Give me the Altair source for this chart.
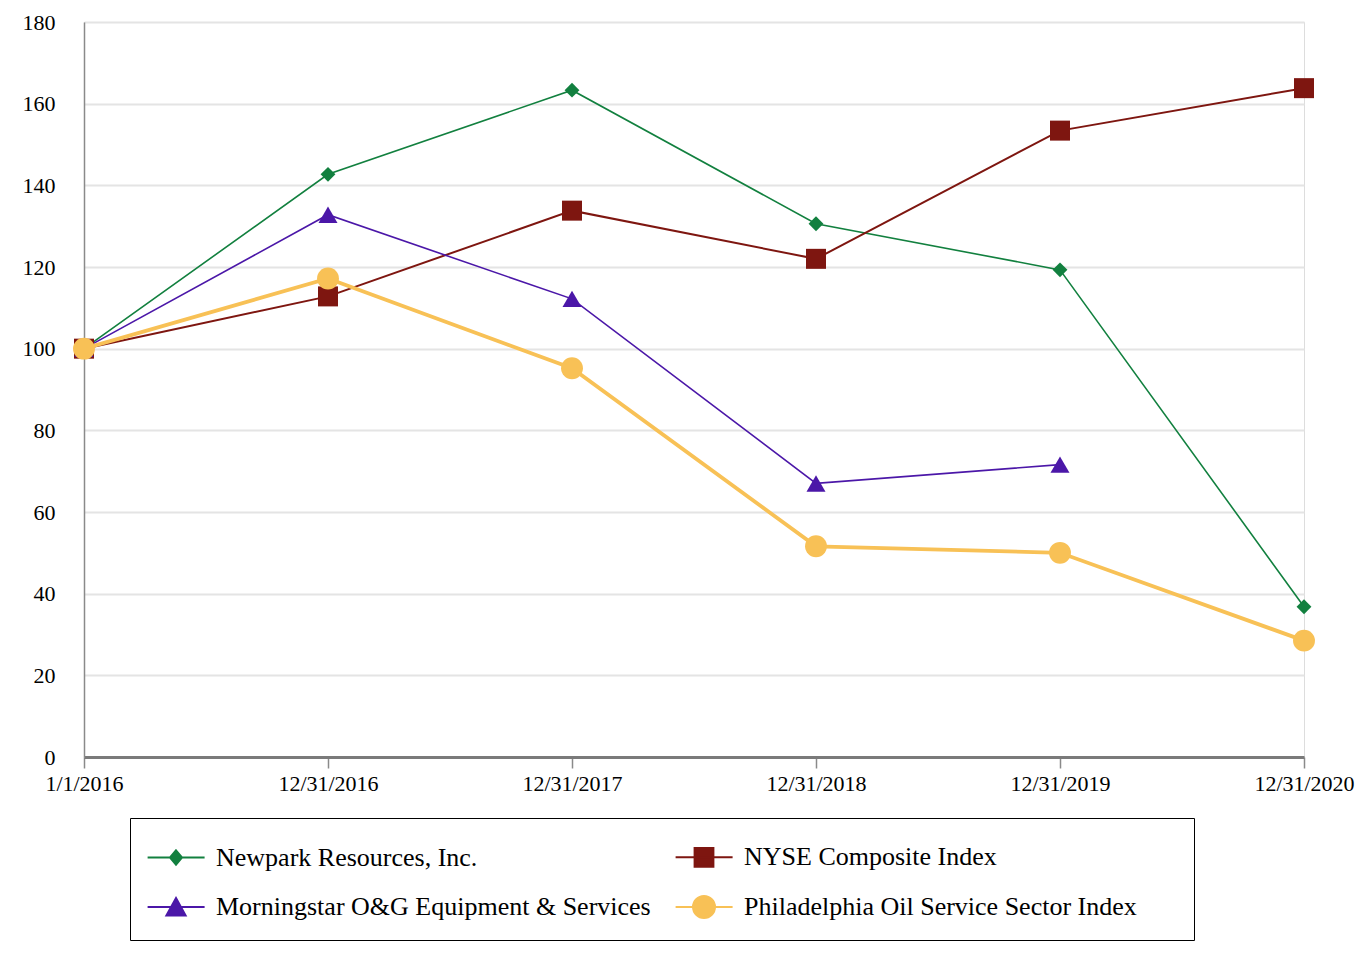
import altair as alt
import pandas as pd

dates = ["1/1/2016", "12/31/2016", "12/31/2017", "12/31/2018", "12/31/2019", "12/31/2020"]
series_names = [
    "Newpark Resources, Inc.",
    "NYSE Composite Index",
    "Morningstar O&G Equipment & Services",
    "Philadelphia Oil Service Sector Index",
]
newpark = [100, 142.7, 163.3, 130.6, 119.3, 36.8]
nyse = [100, 112.8, 133.8, 122.0, 153.4, 163.8]
morningstar = [100, 132.8, 112.2, 67.0, 71.6, None]
philly = [100, 117.2, 95.2, 51.6, 50.0, 28.5]

colors = ["#12803f", "#7e1610", "#4b17a8", "#f8c156"]
shapes = ["diamond", "square", "triangle-up", "circle"]
sizes = [220, 400, 360, 480]
widths = [1.6, 2, 1.6, 3.8]
legend_widths = [2, 2, 2, 4]

# legend symbols: line + marker (custom SVG paths, unit coords scaled by sqrt(size)/2 = 20)
legend_paths = [
    "M-1.07,0H1.78M0.35,-0.36L0.65,0L0.35,0.36L0.05,0Z",
    "M-1.07,0H1.78M-0.12,-0.47H0.82V0.47H-0.12Z",
    "M-1.07,0H1.78M0.35,-0.45L0.83,0.42H-0.13Z",
    "M-1.07,0H1.78M-0.2,0A0.55,0.55,0,1,0,0.9,0A0.55,0.55,0,1,0,-0.2,0Z",
]

rows = []
for name, vals in zip(series_names, [newpark, nyse, morningstar, philly]):
    for d, v in zip(dates, vals):
        if v is not None:
            rows.append({"date": d, "series": name, "value": v})
df = pd.DataFrame(rows)

FONT = "Liberation Serif"
PAD = "\u00a0\u00a0\u00a0\u2800"  # invisible trailing padding: widen the legend box on the right

legend = alt.Legend(
    title=None,
    orient="none",
    legendX=46,
    legendY=796,
    direction="horizontal",
    columns=2,
    gridAlign="each",
    columnPadding=20,
    rowPadding=15,
    padding=18,
    symbolSize=1600,
    labelOffset=26,
    labelFont=FONT,
    labelFontSize=26,
    labelColor="black",
    labelLimit=1000,
    labelExpr=f"datum.label == '{series_names[3]}' ? datum.label + '{PAD}' : datum.label",
    strokeColor="black",
    symbolOpacity=1,
)

x_enc = alt.X(
    "date:O",
    sort=dates,
    scale=alt.Scale(type="point", padding=0),
    axis=alt.Axis(
        title=None,
        labelAngle=0,
        labelFont=FONT,
        labelFontSize=22,
        labelColor="black",
        labelPadding=5,
        tickSize=11,
        tickColor="#8a8a8a",
        tickWidth=1.5,
        domainColor="#7a7a7a",
        domainWidth=3,
        grid=False,
    ),
)
y_enc = alt.Y(
    "value:Q",
    scale=alt.Scale(domain=[0, 180], nice=False),
    axis=alt.Axis(
        title=None,
        values=list(range(0, 181, 20)),
        labelFont=FONT,
        labelFontSize=22,
        labelColor="black",
        labelPadding=29,
        ticks=False,
        domainColor="#8a8a8a",
        domainWidth=1.5,
        gridColor="#e4e4e4",
        gridWidth=2,
    ),
)

base = alt.Chart(df)
layers = []
for name, c, w in zip(series_names, colors, widths):
    layers.append(
        base.transform_filter(alt.datum.series == name)
        .mark_line(color=c, strokeWidth=w)
        .encode(x=x_enc, y=y_enc)
    )
for name, c, s, sz in zip(series_names, colors, shapes, sizes):
    layers.append(
        base.transform_filter(alt.datum.series == name)
        .mark_point(filled=True, opacity=1, color=c, shape=s, size=sz)
        .encode(x=x_enc, y=y_enc)
    )

legend_layer = (
    base.transform_filter("false")
    .mark_point(filled=True, opacity=1)
    .encode(
        x=x_enc,
        y=y_enc,
        fill=alt.Fill(
            "series:N", scale=alt.Scale(domain=series_names, range=colors), legend=legend
        ),
        stroke=alt.Stroke(
            "series:N", scale=alt.Scale(domain=series_names, range=colors), legend=legend
        ),
        shape=alt.Shape(
            "series:N",
            scale=alt.Scale(domain=series_names, range=legend_paths),
            legend=legend,
        ),
        strokeWidth=alt.StrokeWidth(
            "series:N",
            scale=alt.Scale(domain=series_names, range=legend_widths),
            legend=legend,
        ),
    )
)
layers.append(legend_layer)

chart = (
    alt.layer(*layers)
    .properties(
        width=1220,
        height=735,
        autosize=alt.AutoSizeParams(type="none"),
        padding={"left": 76, "top": 14, "right": 52, "bottom": 190},
    )
    .configure_view(stroke=None)
    .configure_legend(strokeWidth=3)
    .configure(background="white")
)

chart.save("out.html", embed_options={"renderer": "svg", "actions": False})
